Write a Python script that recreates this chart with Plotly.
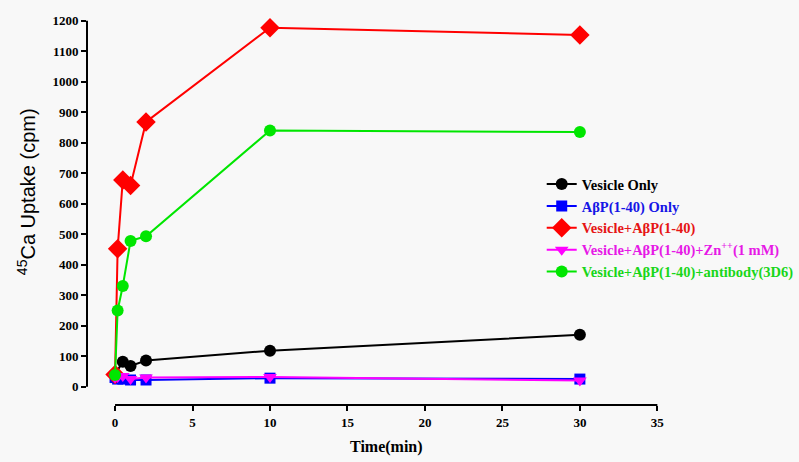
import plotly.graph_objects as go

# Data
t_black = [0, 0.5, 1, 2, 10, 30]
v_black = [40, 82, 68, 86, 118, 170]

t_blue = [0, 0.167, 0.5, 1, 2, 10, 30]
v_blue = [30, 25, 25, 22, 22, 28, 25]

t_red = [0, 0.167, 0.5, 1, 2, 10, 30]
v_red = [40, 452, 678, 660, 868, 1177, 1153]

t_mag = [0, 0.167, 0.5, 1, 2, 10, 30]
v_mag = [30, 32, 35, 25, 30, 32, 20]

t_green = [0, 0.167, 0.5, 1, 2, 10, 30]
v_green = [38, 250, 330, 478, 493, 840, 835]

names = [
    "<span style='color:#000000'><b>Vesicle Only</b></span>",
    "<span style='color:#1515e6'><b>AβP(1-40) Only</b></span>",
    "<span style='color:#e61515'><b>Vesicle+AβP(1-40)</b></span>",
    "<span style='color:#e619e6'><b>Vesicle+AβP(1-40)+Zn<sup>++</sup>(1 mM)</b></span>",
    "<span style='color:#19d619'><b>Vesicle+AβP(1-40)+antibody(3D6)</b></span>",
]

xticks = [0, 5, 10, 15, 20, 25, 30, 35]
yticks = list(range(0, 1300, 100))

fig = go.Figure()
series = [
    (t_black, v_black, "#000000", "circle", 12),
    (t_blue, v_blue, "#0000ff", "square", 11),
    (t_red, v_red, "#ff0000", "diamond", 15),
    (t_mag, v_mag, "#ff00ff", "triangle-down", 12),
    (t_green, v_green, "#00e600", "circle", 12),
]
for (x, y, c, sym, sz), nm in zip(series, names):
    fig.add_trace(go.Scatter(x=x, y=y, mode="lines+markers", name=nm,
                             line=dict(color=c, width=2),
                             marker=dict(color=c, symbol=sym, size=sz)))

bg = "#f8f8f8"
fig.update_layout(
    width=799, height=462,
    paper_bgcolor=bg, plot_bgcolor=bg,
    margin=dict(l=87, r=137, t=10, b=57, autoexpand=False),
    font=dict(family="Liberation Serif", size=13, color="#000"),
    showlegend=True,
    legend=dict(x=0.678, y=0.636, xref="container", yref="container",
                xanchor="left", yanchor="top",
                bgcolor="rgba(0,0,0,0)", tracegroupgap=0,
                font=dict(family="Liberation Serif", size=14.5),
                itemwidth=30),
    xaxis=dict(range=[-1.81, 35.3], tickvals=xticks, showgrid=False, zeroline=False,
               showline=False, ticks="outside", ticklen=5, tickwidth=2, tickcolor="#000",
               tickfont=dict(family="Liberation Serif", size=13, weight="bold")),
    yaxis=dict(range=[-60, 1235], tickvals=yticks, showgrid=False, zeroline=False,
               showline=False, ticks="outside", ticklen=5, tickwidth=2, tickcolor="#000",
               tickfont=dict(family="Liberation Serif", size=13, weight="bold")),
    annotations=[
        dict(text="<b>Time(min)</b>", xref="paper", yref="paper", x=0.52, y=-0.106,
             showarrow=False, xanchor="center", yanchor="middle",
             font=dict(family="Liberation Serif", size=16)),
        dict(text="<sup>45</sup>Ca Uptake (cpm)", xref="paper", yref="paper",
             x=-0.106, y=0.539, showarrow=False, textangle=-90,
             xanchor="center", yanchor="middle",
             font=dict(family="Liberation Sans", size=20)),
    ],
)
# axis lines (SigmaPlot-style detached axes)
fig.add_shape(type="line", xref="paper", yref="y", x0=0, x1=0, y0=0, y1=1200,
              line=dict(color="#000", width=2))
fig.add_shape(type="line", xref="x", yref="paper", x0=0, x1=35, y0=0, y1=0,
              line=dict(color="#000", width=2))

fig.write_html("out.html", config={"displayModeBar": False},
               post_script="document.body.style.margin='0px';document.body.style.background='%s';" % bg)
